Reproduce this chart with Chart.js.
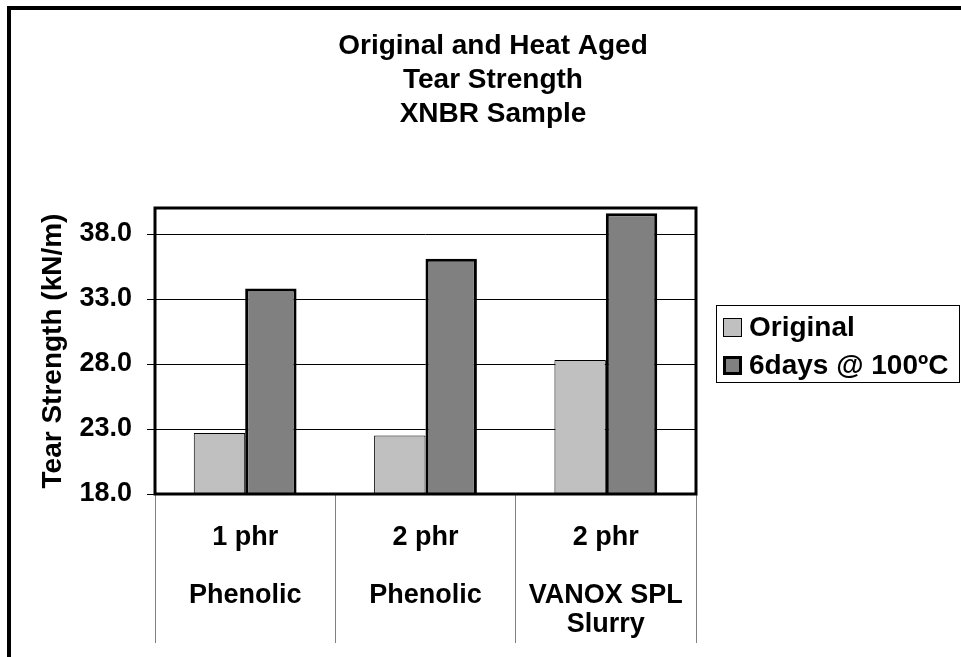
<!DOCTYPE html>
<html>
<head>
<meta charset="utf-8">
<script src="https://cdn.jsdelivr.net/npm/chart.js@4.4.0/dist/chart.umd.min.js"></script>
<style>
  body { margin: 0; background: #fff; }
  canvas { display: block; }
</style>
</head>
<body>
<canvas id="grafico" width="961" height="657"></canvas>
<script>
// dados
const categorias = [
    ['1 phr', '', 'Phenolic'],
    ['2 phr', '', 'Phenolic'],
    ['2 phr', '', 'VANOX SPL', 'Slurry']
];
const original = [22.7, 22.5, 28.3];
const envelhecido = [33.8, 36.1, 39.6];
const ticksY = [18, 23, 28, 33, 38];
const titulo = ['Original and Heat Aged', 'Tear Strength', 'XNBR Sample'];

const fonte = 'Liberation Sans, Arial, sans-serif';

// moldura, borda da area do grafico e legenda
const moldura = {
    id: 'moldura',
    beforeDraw: function (chart) {
        const ctx = chart.ctx;
        ctx.save();
        ctx.fillStyle = '#fff';
        ctx.fillRect(0, 0, chart.width, chart.height);
        ctx.lineWidth = 4;
        ctx.strokeStyle = '#000';
        ctx.strokeRect(9, 8, 1100, 800);
        ctx.restore();
    },
    afterDraw: function (chart) {
        const ctx = chart.ctx;
        const a = chart.chartArea;
        ctx.save();
        ctx.lineWidth = 3;
        ctx.strokeStyle = '#000';
        ctx.strokeRect(a.left, a.top, a.right - a.left, a.bottom - a.top);

        // legenda
        ctx.lineWidth = 1;
        ctx.strokeStyle = '#000';
        ctx.strokeRect(716.5, 305.5, 243, 77);
        ctx.font = 'bold 28px ' + fonte;
        ctx.textBaseline = 'middle';
        chart.data.datasets.forEach(function (ds, i) {
            const y = 318 + i * 38;
            const bw = ds.borderWidth;
            ctx.fillStyle = ds.backgroundColor;
            ctx.fillRect(723, y, 19, 19);
            ctx.lineWidth = bw;
            ctx.strokeStyle = '#000';
            ctx.strokeRect(723 + bw / 2, y + bw / 2, 19 - bw, 19 - bw);
            ctx.fillStyle = '#000';
            ctx.fillText(ds.label, 749, y + 10);
        });
        ctx.restore();
    }
};

new Chart(document.getElementById('grafico'), {
    type: 'bar',
    data: {
        labels: categorias,
        datasets: [
            {
                label: 'Original',
                data: original,
                backgroundColor: '#C0C0C0',
                borderColor: '#000',
                borderWidth: 1,
                yAxisID: 'y'
            },
            {
                label: '6days @ 100\u00BAC',
                data: envelhecido,
                backgroundColor: '#808080',
                borderColor: '#000',
                borderWidth: 3,
                yAxisID: 'y'
            }
        ]
    },
    options: {
        responsive: false,
        animation: false,
        layout: { padding: { left: 25, right: 0, top: 10, bottom: 0 } },
        datasets: {
            bar: { categoryPercentage: 0.57, barPercentage: 1.0 }
        },
        plugins: {
            legend: { display: false },
            tooltip: { enabled: false },
            title: {
                display: true,
                text: titulo,
                color: '#000',
                font: { family: fonte, size: 28, weight: 'bold', lineHeight: '34px' },
                padding: { top: 19, bottom: 77 }
            }
        },
        scales: {
            x: {
                type: 'category',
                grid: {
                    offset: true,
                    drawOnChartArea: false,
                    tickLength: 149,
                    color: '#808080',
                    lineWidth: 1
                },
                border: { display: false },
                ticks: {
                    color: '#000',
                    font: { family: fonte, size: 27, weight: 'bold', lineHeight: '29px' },
                    padding: -120,
                    maxRotation: 0,
                    autoSkip: false
                },
                afterFit: function (s) { s.height = 163; }
            },
            y: {
                type: 'linear',
                position: 'left',
                min: 18,
                max: 40,
                afterBuildTicks: function (s) {
                    s.ticks = ticksY.map(function (v) { return { value: v }; });
                },
                afterFit: function (s) { s.width = 130; },
                grid: { color: '#000', lineWidth: 1, tickLength: 8 },
                border: { display: false },
                ticks: {
                    color: '#000',
                    padding: 15,
                    font: { family: fonte, size: 27, weight: 'bold' },
                    callback: function (v) { return v.toFixed(1); }
                },
                title: {
                    display: true,
                    text: 'Tear Strength (kN/m)',
                    color: '#000',
                    font: { family: fonte, size: 28, weight: 'bold' },
                    padding: { top: 11, bottom: 0 }
                }
            },
            yDir: {
                type: 'linear',
                position: 'right',
                display: true,
                grid: { display: false },
                border: { display: false },
                ticks: { display: false },
                afterFit: function (s) { s.width = 265; }
            }
        }
    },
    plugins: [moldura]
});
</script>
</body>
</html>
